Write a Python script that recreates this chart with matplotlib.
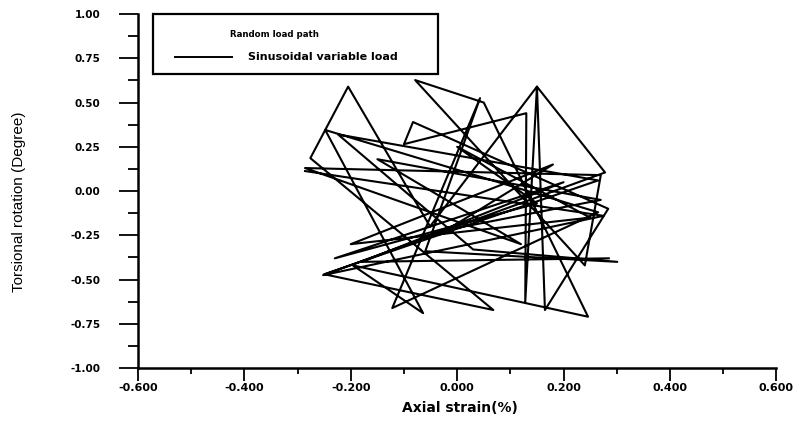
import matplotlib
matplotlib.use("Agg")
import matplotlib.pyplot as plt
from matplotlib.ticker import MultipleLocator, FormatStrFormatter
from matplotlib.lines import Line2D
from matplotlib.patches import Rectangle

# Random load path (axial strain %, torsional rotation degree)
strain = [-0.286, 0.275, -0.252, 0.278, 0.150, 0.128, 0.130, -0.100, -0.083, 0.284,
          0.165, 0.150, -0.051, -0.205, -0.276, 0.068, -0.250, 0.265, -0.224, 0.030,
          0.301, -0.060, 0.043, -0.122, 0.265, -0.248, -0.064, -0.196, 0.246, 0.050,
          -0.079, 0.240, 0.270, -0.286, 0.120, -0.150, 0.270, -0.020, 0.180, -0.200,
          0.250, 0.000, 0.150, -0.230, 0.200, -0.180, 0.285]
rotation = [0.113, -0.140, -0.475, 0.105, 0.590, -0.627, 0.440, 0.265, 0.390, -0.100,
            -0.672, 0.590, -0.200, 0.590, 0.186, -0.672, -0.470, 0.060, 0.320, -0.330,
            -0.400, -0.340, 0.525, -0.661, -0.120, 0.345, -0.690, -0.420, -0.710, 0.500,
            0.627, -0.420, 0.090, 0.130, -0.300, 0.180, -0.050, -0.220, 0.150, -0.300,
            -0.150, 0.250, -0.070, -0.380, 0.050, -0.400, -0.380]

legend_title = "Random load path"
legend_label = "Sinusoidal variable load"
xlabel = "Axial strain(%)"
ylabel = "Torsional rotation (Degree)"

fig = plt.figure(figsize=(8.07, 4.26), dpi=100)
ax = fig.add_axes([0.171, 0.136, 0.791, 0.831])
ax.plot(strain, rotation, color="black", lw=1.5)

ax.set_xlim(-0.6, 0.6)
ax.set_ylim(-1.0, 1.0)
ax.xaxis.set_major_locator(MultipleLocator(0.2))
ax.xaxis.set_minor_locator(MultipleLocator(0.1))
ax.yaxis.set_major_locator(MultipleLocator(0.25))
ax.yaxis.set_minor_locator(MultipleLocator(0.125))
ax.xaxis.set_major_formatter(FormatStrFormatter("%.3f"))
ax.yaxis.set_major_formatter(FormatStrFormatter("%.2f"))

for s in ["top", "right"]:
    ax.spines[s].set_visible(False)
for s in ["left", "bottom"]:
    ax.spines[s].set_linewidth(1.8)

ax.tick_params(axis="y", which="major", direction="out", length=14, width=1.3,
               labelsize=7.5, pad=13)
ax.tick_params(axis="y", which="minor", direction="out", length=7, width=1.3)
ax.tick_params(axis="x", which="major", direction="out", length=9, width=1.3,
               labelsize=8, pad=2)
ax.tick_params(axis="x", which="minor", direction="out", length=4, width=1.3)
for lab in ax.get_xticklabels() + ax.get_yticklabels():
    lab.set_fontweight("bold")

ax.set_xlabel(xlabel, fontsize=10, fontweight="bold")
ax.xaxis.set_label_coords(0.505, -0.093)
ax.set_ylabel(ylabel, fontsize=11, family=["Liberation Sans Narrow", "Liberation Sans"])
ax.yaxis.set_label_coords(-0.176, 0.47)

# legend box
fig.patches.append(Rectangle((0.19, 0.826), 0.353, 0.141, transform=fig.transFigure,
                             fill=False, edgecolor="black", lw=1.6))
fig.text(0.340, 0.920, legend_title, ha="center", va="center", fontsize=6.2,
         fontweight="bold")
fig.lines.append(Line2D([0.217, 0.287], [0.866, 0.866], transform=fig.transFigure,
                        color="black", lw=1.4))
fig.text(0.307, 0.866, legend_label, ha="left", va="center", fontsize=8,
         fontweight="bold")

fig.savefig("out.png", dpi=100)
